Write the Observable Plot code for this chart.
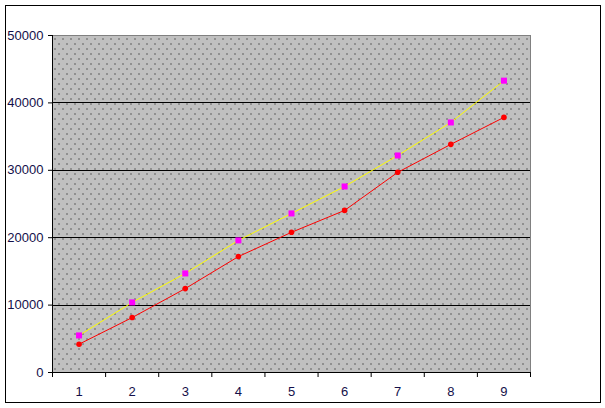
<!DOCTYPE html>
<html>
<head>
<meta charset="utf-8">
<script src="https://cdn.jsdelivr.net/npm/d3@7"></script>
<script src="https://cdn.jsdelivr.net/npm/@observablehq/plot@0.6"></script>
<style>
  html, body { margin: 0; padding: 0; background: #fff; }
  #wrap { position: relative; width: 605px; height: 408px; overflow: hidden; }
  #border { position: absolute; left: 5px; top: 5px; width: 596px; height: 398px; box-sizing: border-box; border: 1px solid #000; }
  #chart { position: absolute; left: 0; top: 0; }
</style>
</head>
<body>
<div id="wrap"><div id="border"></div><div id="chart"></div></div>
<script>
const categories = [1, 2, 3, 4, 5, 6, 7, 8, 9];
const redValues = [4200, 8150, 12450, 17200, 20800, 24050, 29700, 33850, 37850];
const magentaValues = [5500, 10400, 14700, 19600, 23600, 27600, 32200, 37100, 43300];
const yTicks = [0, 10000, 20000, 30000, 40000, 50000];
const gridTicks = [10000, 20000, 30000, 40000];

const red = categories.map((c, i) => ({x: c, y: redValues[i]}));
const magenta = categories.map((c, i) => ({x: c, y: magentaValues[i]}));
const boundaries = [categories[0] - 0.5, ...categories.map(c => c + 0.5)];

const chart = Plot.plot({
  width: 605,
  height: 408,
  marginLeft: 52,
  marginRight: 75,
  marginTop: 35,
  marginBottom: 36,
  style: {fontFamily: "Arial, 'Liberation Sans', sans-serif", fontSize: "13px", color: "#14104a", background: "transparent"},
  x: {domain: [boundaries[0], boundaries[boundaries.length - 1]]},
  y: {domain: [0, 50000]},
  marks: [
    Plot.frame({fill: "url(#dots)", stroke: "#808080"}),
    Plot.gridY(gridTicks, {stroke: "#000", strokeOpacity: 1, strokeWidth: 1}),
    Plot.ruleY([0], {stroke: "#000"}),
    Plot.ruleX([boundaries[0]], {stroke: "#000"}),
    Plot.axisY(yTicks, {tickSize: 4, tickPadding: 5, tickFormat: d => String(d), label: null, stroke: "#000"}),
    Plot.axisX(boundaries, {tickSize: 5, tickFormat: () => "", label: null, stroke: "#000"}),
    Plot.axisX(categories, {tickSize: 0, tickPadding: 14, tickFormat: d => String(d), label: null}),
    Plot.line(magenta, {x: "x", y: "y", stroke: "#FFFF00", strokeWidth: 1}),
    Plot.line(red, {x: "x", y: "y", stroke: "#FF0000", strokeWidth: 1}),
    Plot.dot(magenta, {x: "x", y: "y", symbol: "square", r: 3.4, fill: "#FF00FF", stroke: "none"}),
    Plot.dot(red, {x: "x", y: "y", r: 2.8, fill: "#FF0000", stroke: "none"})
  ]
});

const svg = d3.select(chart);
svg.selectAll("line").attr("shape-rendering", "crispEdges");
svg.selectAll("rect").attr("shape-rendering", "crispEdges");
const defs = svg.insert("defs", ":first-child");
const pat = defs.append("pattern")
  .attr("id", "dots")
  .attr("patternUnits", "userSpaceOnUse")
  .attr("x", 0).attr("y", 0)
  .attr("width", 8).attr("height", 10);
pat.append("rect").attr("width", 8).attr("height", 10).attr("fill", "#C0C0C0");
pat.append("rect").attr("x", 2).attr("y", 3).attr("width", 1).attr("height", 1).attr("fill", "#000").attr("shape-rendering", "crispEdges");
pat.append("rect").attr("x", 6).attr("y", 8).attr("width", 1).attr("height", 1).attr("fill", "#000").attr("shape-rendering", "crispEdges");

document.getElementById("chart").appendChild(chart);
</script>
</body>
</html>
